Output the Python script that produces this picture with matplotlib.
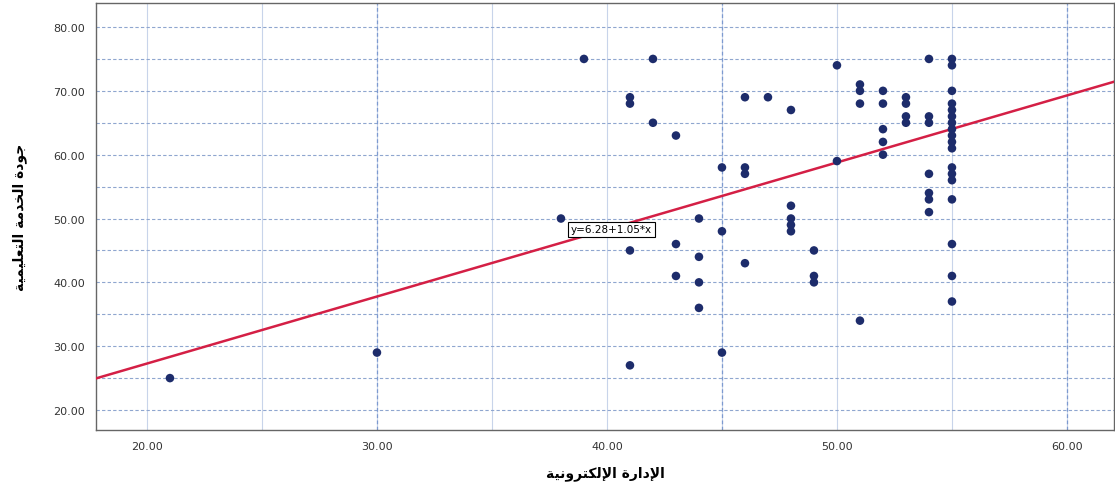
import matplotlib.pyplot as plt
import numpy as np

# scores: e-administration (x) vs service quality (y)
x_vals = [21, 30, 38, 39,
          41, 41, 41, 41,
          42, 42,
          43, 43, 43,
          44, 44, 44, 44,
          45, 45, 45,
          46, 46, 46, 46,
          47,
          48, 48, 48, 48, 48,
          49, 49, 49,
          50, 50,
          51, 51, 51, 51,
          52, 52, 52, 52, 52,
          53, 53, 53, 53,
          54, 54, 54, 54, 54, 54, 54,
          55, 55, 55, 55, 55, 55, 55, 55, 55, 55, 55, 55, 55, 55, 55, 55, 55, 55]
y_vals = [25, 29, 50, 75,
          69, 68, 45, 27,
          75, 65,
          63, 46, 41,
          50, 44, 40, 36,
          58, 48, 29,
          69, 58, 57, 43,
          69,
          67, 52, 50, 49, 48,
          45, 41, 40,
          74, 59,
          71, 70, 68, 34,
          70, 68, 64, 62, 60,
          69, 68, 66, 65,
          75, 66, 65, 57, 54, 53, 51,
          75, 74, 70, 68, 67, 66, 65, 64, 63, 62, 61, 58, 57, 56, 53, 46, 41, 37]

intercept = 6.28
slope = 1.05
fit_label = "y=6.28+1.05*x"

x_label = "الإدارة الإلكترونية"
y_label = "جودة الخدمة التعليمية"

# tiny arabic shaper: (isolated, final, initial, medial)
FORMS = {
    'ا': ('\uFE8D', '\uFE8E', None, None),
    'إ': ('\uFE87', '\uFE88', None, None),
    'د': ('\uFEA9', '\uFEAA', None, None),
    'ر': ('\uFEAD', '\uFEAE', None, None),
    'ة': ('\uFE93', '\uFE94', None, None),
    'و': ('\uFEED', '\uFEEE', None, None),
    'ل': ('\uFEDD', '\uFEDE', '\uFEDF', '\uFEE0'),
    'ك': ('\uFED9', '\uFEDA', '\uFEDB', '\uFEDC'),
    'ت': ('\uFE95', '\uFE96', '\uFE97', '\uFE98'),
    'ن': ('\uFEE5', '\uFEE6', '\uFEE7', '\uFEE8'),
    'ي': ('\uFEF1', '\uFEF2', '\uFEF3', '\uFEF4'),
    'ج': ('\uFE9D', '\uFE9E', '\uFE9F', '\uFEA0'),
    'خ': ('\uFEA5', '\uFEA6', '\uFEA7', '\uFEA8'),
    'م': ('\uFEE1', '\uFEE2', '\uFEE3', '\uFEE4'),
    'ع': ('\uFEC9', '\uFECA', '\uFECB', '\uFECC'),
}
LAM_ALEF = {'ا': ('\uFEFB', '\uFEFC'), 'إ': ('\uFEF9', '\uFEFA')}


def shape_word(word):
    out = []
    i = 0
    prev_joins = False
    while i < len(word):
        ch = word[i]
        if ch == 'ل' and i + 1 < len(word) and word[i + 1] in LAM_ALEF:
            iso, fin = LAM_ALEF[word[i + 1]]
            out.append(fin if prev_joins else iso)
            prev_joins = False
            i += 2
            continue
        iso, fin, ini, med = FORMS[ch]
        next_ok = i + 1 < len(word) and ini is not None
        if prev_joins and next_ok:
            out.append(med)
        elif prev_joins:
            out.append(fin)
        elif next_ok:
            out.append(ini)
        else:
            out.append(iso)
        prev_joins = ini is not None
        i += 1
    return ''.join(out)[::-1]


def shape(text):
    return ' '.join(shape_word(w) for w in text.split(' ')[::-1])


fig = plt.figure(figsize=(11.15, 4.89), dpi=100)
ax = fig.add_axes([0.0861, 0.1186, 0.9129, 0.8732])

ax.set_xlim(17.785, 62.04)
ax.set_ylim(16.87, 83.76)
ax.set_xticks([20, 30, 40, 50, 60])
ax.set_yticks([20, 30, 40, 50, 60, 70, 80])
ax.set_xticks(np.arange(25, 61, 10), minor=True)
ax.set_yticks(np.arange(25, 81, 10), minor=True)
ax.xaxis.set_major_formatter(plt.FormatStrFormatter('%.2f'))
ax.yaxis.set_major_formatter(plt.FormatStrFormatter('%.2f'))
ax.tick_params(which='both', length=0, labelsize=8, labelcolor='#333333', pad=8)

ax.grid(which='both', axis='x', color='#c8d4ea', linestyle='-', linewidth=0.8)
ax.grid(which='both', axis='y', color='#8fa6cf', linestyle=(0, (3, 2)), linewidth=0.8)
# a few stronger dashed verticals
for xv in [30, 45, 60]:
    ax.axvline(xv, color='#7d9ad0', linestyle=(0, (3, 2)), linewidth=0.9, zorder=1)
ax.set_axisbelow(True)

for s in ax.spines.values():
    s.set_color('#666666')
    s.set_linewidth(1.0)

xx = np.array(ax.get_xlim())
ax.plot(xx, intercept + slope * xx, color='#d41f45', linewidth=1.8, zorder=3)

ax.scatter(x_vals, y_vals, s=38, color='#1d2c6b', edgecolors='none', zorder=4)

ax.text(40.2, 48.3, fit_label, fontsize=7.5, ha='center', va='center', zorder=5,
        bbox=dict(boxstyle='square,pad=0.25', facecolor='white', edgecolor='black', linewidth=0.8))

ax.set_xlabel(shape(x_label), fontsize=10, fontweight='bold', family='DejaVu Sans', labelpad=10)
ax.set_ylabel(shape(y_label), fontsize=10, fontweight='bold', family='DejaVu Sans', labelpad=19)

fig.savefig('out.png', dpi=100)
